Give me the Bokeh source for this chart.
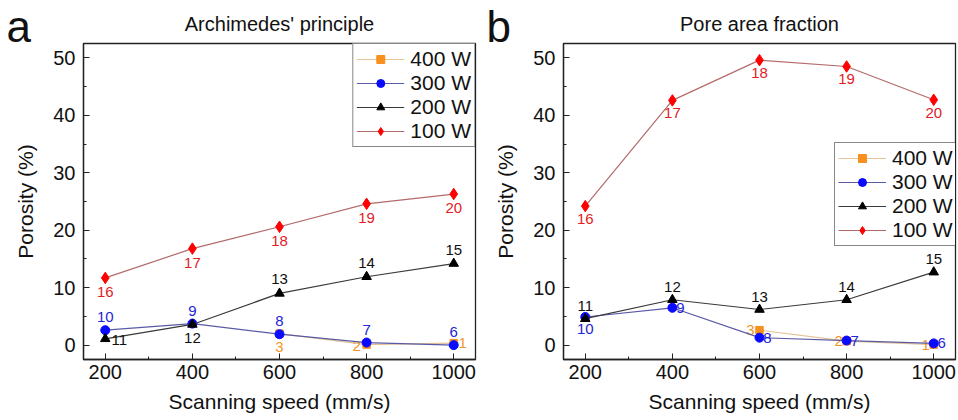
from bokeh.plotting import figure
from bokeh.models import ColumnDataSource, Legend, LegendItem, Range1d, FixedTicker, Title
from bokeh.layouts import row
from bokeh.embed import file_html
from bokeh.resources import INLINE
from bokeh.core.properties import value

# ---------------- data ----------------
speed = [200, 400, 600, 800, 1000]
speed_400 = [600, 800, 1000]
x_ticks = [200, 400, 600, 800, 1000]
x_minor = [300, 500, 700, 900]
y_ticks = [0, 10, 20, 30, 40, 50]
y_minor = [5, 15, 25, 35, 45]

# panel a: Archimedes' principle
a_400 = [2.0, 0.1, 0.35]
a_300 = [2.6, 3.75, 1.9, 0.45, 0.0]
a_200 = [1.1, 3.6, 9.0, 11.9, 14.2]
a_100 = [11.7, 16.8, 20.6, 24.6, 26.3]

# panel b: Pore area fraction
b_400 = [2.6, 0.7, 0.1]
b_300 = [4.9, 6.5, 1.3, 0.8, 0.3]
b_200 = [4.6, 7.9, 6.2, 7.9, 12.7]
b_100 = [24.2, 42.6, 49.6, 48.5, 42.7]

# point labels (sample numbers)
lab_400 = ["3", "2", "1"]
lab_300 = ["10", "9", "8", "7", "6"]
lab_200 = ["11", "12", "13", "14", "15"]
lab_100 = ["16", "17", "18", "19", "20"]

series_names = ["400 W", "300 W", "200 W", "100 W"]

# ---------------- styles ----------------
FONT = "Liberation Sans"
styles = {
    "400 W": dict(marker="square", mcolor="#F7901E", lcolor="#E3C293", tcolor="#F0962A", size=7.5),
    "300 W": dict(marker="circle", mcolor="#0A0AFF", lcolor="#5A5AA6", tcolor="#2424D8", size=9),
    "200 W": dict(marker="triangle", mcolor="#000000", lcolor="#3A3A3A", tcolor="#111111", size=9.5),
    "100 W": dict(marker="diamond", mcolor="#FF0000", lcolor="#B56A6A", tcolor="#E2211F", size=11.5),
}

# label screen offsets (px) per panel / series
offs_a = {
    "400 W": [(0, 13), (-10, 1), (9, 0)],
    "300 W": [(0, -13)] * 5,
    "200 W": [(14, 1), (0, 14), (0, -14), (0, -14), (0, -14)],
    "100 W": [(0, 14)] * 5,
}
offs_b = {
    "400 W": [(-9, 0), (-8, 0), (-8, 0)],
    "300 W": [(0, 12), (8, 0), (8, 0), (8, 0), (8, 0)],
    "200 W": [(0, -13)] * 5,
    "100 W": [(0, 13)] * 5,
}

FH = 420
BT, BB = 43, 61
FW = 392


def make_panel(title, letter, ys, offs, width, bleft, bright, legend_loc):
    p = figure(width=width, height=FH, output_backend="svg", toolbar_location=None,
               x_range=Range1d(150, 1050), y_range=Range1d(-2.5, 52.5),
               min_border_left=bleft, min_border_right=bright,
               min_border_top=BT, min_border_bottom=BB,
               x_axis_label="Scanning speed (mm/s)", y_axis_label="Porosity (%)")
    p.grid.visible = False
    p.outline_line_color = "#222222"
    p.outline_line_width = 1.3
    p.title.visible = False

    # chart title (nearest to the frame)
    p.add_layout(Title(text=title, align="center", text_font=FONT, text_font_size="20px",
                       text_font_style="normal", text_color="#111111", standoff=18), "above")
    # panel letter (outer title, pulled down beside the chart title)
    p.add_layout(Title(text=letter, align="left", offset=-77, vertical_align="bottom",
                       text_font=FONT, text_font_size="44px", text_font_style="normal",
                       text_color="#111111", standoff=-98), "above")

    for ax in (p.xaxis[0], p.yaxis[0]):
        ax.axis_line_color = "#222222"
        ax.axis_line_width = 1.3
        ax.major_tick_in = 6
        ax.major_tick_out = 0
        ax.minor_tick_in = 3
        ax.minor_tick_out = 0
        ax.major_tick_line_color = "#222222"
        ax.minor_tick_line_color = "#222222"
        ax.major_label_text_font = FONT
        ax.major_label_text_font_size = "20px"
        ax.major_label_text_color = "#111111"
        ax.axis_label_text_font = FONT
        ax.axis_label_text_font_size = "21px"
        ax.axis_label_text_font_style = "normal"
        ax.axis_label_text_color = "#111111"
    p.xaxis[0].ticker = FixedTicker(ticks=x_ticks, minor_ticks=x_minor)
    p.yaxis[0].ticker = FixedTicker(ticks=y_ticks, minor_ticks=y_minor)
    p.xaxis[0].major_label_standoff = 5
    p.xaxis[0].axis_label_standoff = 8
    p.yaxis[0].major_label_standoff = 8
    p.yaxis[0].axis_label_standoff = 13

    labels = {"400 W": lab_400, "300 W": lab_300, "200 W": lab_200, "100 W": lab_100}
    items = {}
    for name in series_names:
        st = styles[name]
        xs = speed_400 if name == "400 W" else speed
        src = ColumnDataSource(dict(
            x=xs, y=ys[name], t=labels[name],
            dx=[o[0] for o in offs[name]], dy=[o[1] for o in offs[name]]))
        lr = p.line("x", "y", source=src, line_color=st["lcolor"], line_width=1.2)
        sr = p.scatter("x", "y", source=src, marker=st["marker"], size=st["size"],
                       fill_color=st["mcolor"], line_color=st["mcolor"])
        p.text("x", "y", text="t", source=src, x_offset="dx", y_offset="dy",
               text_font=value(FONT), text_font_size="15px", text_color=st["tcolor"],
               text_align="center", text_baseline="middle")
        items[name] = LegendItem(label=name, renderers=[lr, sr])

    leg = Legend(items=[items[n] for n in series_names], location=legend_loc,
                 label_text_font=FONT, label_text_font_size="21px", label_text_color="#111111",
                 glyph_width=48, glyph_height=20, label_height=24, label_standoff=6,
                 spacing=0, padding=3, margin=0,
                 border_line_color="#111111", border_line_width=1.3,
                 background_fill_alpha=1.0)
    p.add_layout(leg, "center")
    return p


pa = make_panel("Archimedes' principle", "a",
                {"400 W": a_400, "300 W": a_300, "200 W": a_200, "100 W": a_100},
                offs_a, 480, 83, 5, "top_right")
pb = make_panel("Pore area fraction", "b",
                {"400 W": b_400, "300 W": b_300, "200 W": b_200, "100 W": b_100},
                offs_b, 478, 83, 3, (FW - 121, 113))

layout = row(pa, pb)
open("out.html", "w").write(file_html(layout, INLINE))
